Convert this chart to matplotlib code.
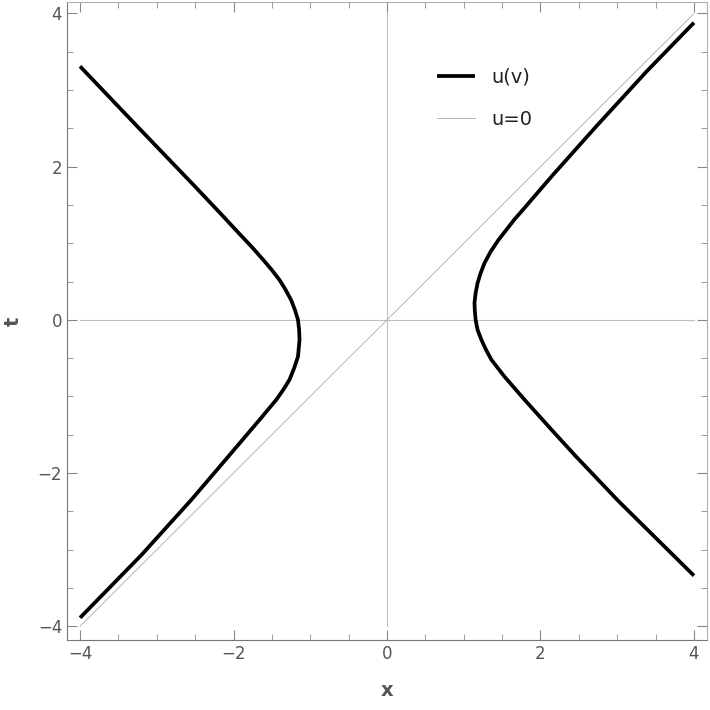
import numpy as np
import matplotlib
matplotlib.use('Agg')
import matplotlib.pyplot as plt
from matplotlib.ticker import MultipleLocator

left_x = [-4.00, -3.22, -2.52, -2.18, -1.92, -1.76, -1.61, -1.50, -1.40, -1.32,
          -1.25, -1.20, -1.16, -1.145, -1.14, -1.15, -1.16, -1.21, -1.27, -1.35,
          -1.44, -1.54, -1.64, -1.75, -2.03, -2.55, -3.20, -4.00]
left_t = [3.31, 2.49, 1.76, 1.40, 1.12, 0.95, 0.78, 0.65, 0.52, 0.39,
          0.26, 0.13, 0.00, -0.13, -0.26, -0.37, -0.48, -0.63, -0.78, -0.91,
          -1.04, -1.16, -1.28, -1.41, -1.74, -2.35, -3.07, -3.89]
# right branch, top -> bottom
right_x = [4.00, 3.38, 2.73, 2.16, 1.73, 1.66, 1.45, 1.35, 1.27, 1.22,
           1.18, 1.155, 1.14, 1.145, 1.155, 1.18, 1.23, 1.29, 1.36, 1.53,
           1.79, 2.14, 2.45, 3.01, 4.00]
right_t = [3.88, 3.24, 2.53, 1.89, 1.39, 1.31, 1.04, 0.89, 0.74, 0.61,
           0.48, 0.35, 0.22, 0.11, 0.00, -0.13, -0.26, -0.39, -0.52, -0.74,
           -1.04, -1.43, -1.77, -2.36, -3.34]
# line u=0
diag_x = [-4, 4]
diag_t = [-4, 4]

gray = '#555555'
plt.rcParams['font.family'] = 'DejaVu Sans'

fig = plt.figure(figsize=(7.1, 7.1), dpi=100)
ax = fig.add_axes([67 / 710, 70 / 710, 640 / 710, 638 / 710])

# axes lines through origin
ax.plot([-4, 4], [0, 0], color='#c0c0c0', lw=0.8, zorder=1)
ax.plot([0, 0], [-4, 4], color='#c0c0c0', lw=0.8, zorder=1)

ax.plot(left_x, left_t, color='black', lw=2.7, solid_capstyle='butt',
        solid_joinstyle='round', label='u(v)', zorder=3)
ax.plot(right_x, right_t, color='black', lw=2.7, solid_capstyle='butt',
        solid_joinstyle='round', zorder=3)
ax.plot(diag_x, diag_t, color='#aaaaaa', lw=0.6, label='u=0', zorder=2)

ax.set_xlim(-4.17, 4.17)
ax.set_ylim(-4.18, 4.15)
ax.xaxis.set_major_locator(MultipleLocator(2))
ax.yaxis.set_major_locator(MultipleLocator(2))
ax.xaxis.set_minor_locator(MultipleLocator(0.5))
ax.yaxis.set_minor_locator(MultipleLocator(0.5))
ax.tick_params(which='both', direction='in', top=True, right=True,
               color='#888888', labelcolor=gray, labelsize=12)
ax.tick_params(which='major', length=7, width=0.8)
ax.tick_params(which='minor', length=4, width=0.6)

for s in ['left', 'bottom']:
    ax.spines[s].set_color('#777777')
for s in ['top', 'right']:
    ax.spines[s].set_color('#b0b0b0')

ax.set_xlabel('x', fontsize=14, fontweight='bold', color=gray, labelpad=13)
ax.set_ylabel('t', fontsize=14, fontweight='bold', color=gray, labelpad=11)

ax.legend(loc='upper left', bbox_to_anchor=(0.55, 0.925), frameon=False,
          fontsize=14, handlelength=2.0, labelspacing=1.2, labelcolor='#222222')

fig.savefig('out.png', dpi=100)
